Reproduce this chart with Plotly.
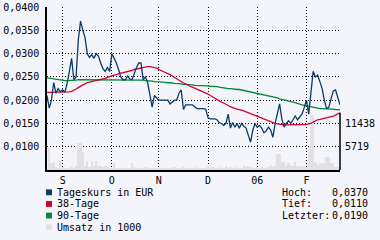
import plotly.graph_objects as go

# ---------------- data ----------------
price = [0.0210, 0.0183, 0.0200, 0.0238, 0.0215, 0.0225, 0.0218, 0.0222, 0.0217, 0.0236,
         0.0262, 0.0290, 0.0244, 0.0250, 0.0330, 0.0370, 0.0350, 0.0335, 0.0300, 0.0292,
         0.0298, 0.0290, 0.0300, 0.0295, 0.0280, 0.0268, 0.0262, 0.0270, 0.0262, 0.0300,
         0.0290, 0.0280, 0.0266, 0.0250, 0.0244, 0.0244, 0.0252, 0.0246, 0.0244, 0.0258,
         0.0270, 0.0280, 0.0280, 0.0244, 0.0250, 0.0238, 0.0210, 0.0185, 0.0210, 0.0206,
         0.0200, 0.0200, 0.0200, 0.0200, 0.0200, 0.0192, 0.0196, 0.0200, 0.0200, 0.0215,
         0.0222, 0.0180, 0.0190, 0.0190, 0.0190, 0.0190, 0.0186, 0.0182, 0.0182, 0.0182,
         0.0182, 0.0180, 0.0162, 0.0160, 0.0160, 0.0160, 0.0158, 0.0152, 0.0150, 0.0146,
         0.0150, 0.0170, 0.0140, 0.0152, 0.0142, 0.0150, 0.0140, 0.0150, 0.0144, 0.0140,
         0.0125, 0.0110, 0.0135, 0.0150, 0.0142, 0.0146, 0.0140, 0.0130, 0.0134, 0.0142,
         0.0136, 0.0120, 0.0150, 0.0175, 0.0192, 0.0160, 0.0142, 0.0150, 0.0156, 0.0150,
         0.0158, 0.0166, 0.0158, 0.0164, 0.0170, 0.0184, 0.0200, 0.0170, 0.0215, 0.0262,
         0.0250, 0.0254, 0.0240, 0.0225, 0.0200, 0.0182, 0.0185, 0.0205, 0.0220, 0.0222,
         0.0205, 0.0190]

ma38 = [0.0217, 0.0217, 0.0217, 0.0217, 0.0217, 0.0217, 0.0217, 0.0217, 0.0217, 0.0217,
        0.0218, 0.0219, 0.0221, 0.0224, 0.0227, 0.0231, 0.0233, 0.0235, 0.0238, 0.0239,
        0.0240, 0.0241, 0.0242, 0.0243, 0.0244, 0.0245, 0.0247, 0.0249, 0.0251, 0.0252,
        0.0254, 0.0255, 0.0257, 0.0258, 0.0259, 0.0260, 0.0261, 0.0263, 0.0264, 0.0266,
        0.0267, 0.0269, 0.0270, 0.0271, 0.0272, 0.0272, 0.0272, 0.0271, 0.0271, 0.0269,
        0.0266, 0.0264, 0.0262, 0.0260, 0.0258, 0.0255, 0.0252, 0.0249, 0.0246, 0.0242,
        0.0239, 0.0237, 0.0235, 0.0232, 0.0230, 0.0228, 0.0226, 0.0224, 0.0222, 0.0220,
        0.0218, 0.0216, 0.0213, 0.0210, 0.0207, 0.0204, 0.0201, 0.0198, 0.0196, 0.0194,
        0.0191, 0.0189, 0.0186, 0.0184, 0.0182, 0.0181, 0.0180, 0.0179, 0.0177, 0.0175,
        0.0173, 0.0171, 0.0169, 0.0167, 0.0165, 0.0163, 0.0161, 0.0159, 0.0157, 0.0155,
        0.0154, 0.0152, 0.0150, 0.0149, 0.0148, 0.0148, 0.0147, 0.0147, 0.0147, 0.0147,
        0.0147, 0.0147, 0.0148, 0.0148, 0.0148, 0.0148, 0.0148, 0.0149, 0.0150, 0.0153,
        0.0156, 0.0158, 0.0159, 0.0160, 0.0161, 0.0162, 0.0163, 0.0165, 0.0166, 0.0168,
        0.0171, 0.0173]

ma90 = [0.0248, 0.0248, 0.0247, 0.0246, 0.0245, 0.0244, 0.0243, 0.0243, 0.0242, 0.0242,
        0.0242, 0.0243, 0.0243, 0.0243, 0.0244, 0.0244, 0.0244, 0.0244, 0.0244, 0.0244,
        0.0244, 0.0244, 0.0244, 0.0244, 0.0244, 0.0244, 0.0244, 0.0244, 0.0244, 0.0244,
        0.0244, 0.0244, 0.0244, 0.0244, 0.0244, 0.0244, 0.0244, 0.0244, 0.0244, 0.0244,
        0.0244, 0.0244, 0.0243, 0.0243, 0.0242, 0.0242, 0.0241, 0.0241, 0.0240, 0.0240,
        0.0240, 0.0239, 0.0239, 0.0238, 0.0238, 0.0237, 0.0237, 0.0236, 0.0236, 0.0235,
        0.0235, 0.0234, 0.0234, 0.0233, 0.0233, 0.0233, 0.0232, 0.0232, 0.0232, 0.0231,
        0.0231, 0.0231, 0.0231, 0.0230, 0.0230, 0.0229, 0.0229, 0.0228, 0.0227, 0.0226,
        0.0226, 0.0225, 0.0225, 0.0224, 0.0224, 0.0223, 0.0223, 0.0222, 0.0221, 0.0220,
        0.0219, 0.0218, 0.0217, 0.0216, 0.0215, 0.0214, 0.0213, 0.0212, 0.0211, 0.0210,
        0.0208, 0.0207, 0.0206, 0.0205, 0.0203, 0.0202, 0.0200, 0.0199, 0.0198, 0.0197,
        0.0196, 0.0195, 0.0193, 0.0191, 0.0190, 0.0189, 0.0188, 0.0187, 0.0185, 0.0184,
        0.0183, 0.0183, 0.0182, 0.0182, 0.0182, 0.0181, 0.0181, 0.0181, 0.0181, 0.0180,
        0.0180, 0.0179]

volume = [400, 5500, 1800, 1900, 700, 600, 1900, 800, 500, 600,
          400, 700, 500, 900, 6700, 6700, 4300, 1000, 2100, 800,
          2100, 900, 2100, 900, 1000, 700, 900, 700, 600, 500,
          1600, 500, 400, 600, 400, 300, 500, 400, 1700, 800,
          500, 600, 400, 500, 700, 400, 300, 500, 600, 400,
          500, 300, 400, 600, 500, 300, 400, 700, 500, 400,
          600, 800, 500, 400, 300, 500, 700, 400, 500, 600,
          400, 500, 900, 600, 800, 500, 400, 700, 600, 500,
          900, 600, 700, 400, 500, 800, 600, 500, 900, 700,
          1100, 800, 600, 500, 700, 600, 900, 500, 600, 800,
          1200, 700, 900, 4000, 4000, 1900, 1900, 1000, 1600, 1100,
          1100, 1900, 900, 1100, 1100, 700, 700, 4300, 13500, 13500,
          1900, 1200, 1600, 1600, 1600, 3100, 3100, 1600, 1600, 700,
          700, 500]

month_pos = [7, 29, 50, 72, 94, 116]
month_labels = ["S", "O", "N", "D", "06", "F"]
price_ticks = [0.010, 0.015, 0.020, 0.025, 0.030, 0.035, 0.040]
vol_ticks = [5719, 11438]
vol_labels = ["5719", "11438"]

legend_items = ["Tageskurs in EUR", "38-Tage", "90-Tage", "Umsatz in 1000"]
stat_labels = ["Hoch:", "Tief:", "Letzter:"]
stat_values = ["0,0370", "0,0110", "0,0190"]

# ---------------- style ----------------
BG = "#f4f5fa"
C_PRICE = "#0b3a6b"
C_38 = "#d6002c"
C_90 = "#00893a"
C_VOL = "#e1e1e1"
FONT = "DejaVu Sans Mono"

W, H = 380, 240
L, R, T, B = 47, 40, 2, 70
PW, PH = W - L - R, H - T - B


def px(x):
    return (x - L) / PW


def py(y):
    return (H - B - y) / PH


idx = list(range(len(price)))

fig = go.Figure()
fig.add_trace(go.Bar(x=idx, y=volume, marker=dict(color=C_VOL, line=dict(width=0)),
                     yaxis="y", showlegend=False))
fig.add_trace(go.Scatter(x=idx, y=ma90, mode="lines", line=dict(color=C_90, width=1.3),
                         yaxis="y2", showlegend=False))
fig.add_trace(go.Scatter(x=idx, y=ma38, mode="lines", line=dict(color=C_38, width=1.3),
                         yaxis="y2", showlegend=False))
fig.add_trace(go.Scatter(x=idx, y=price, mode="lines", line=dict(color=C_PRICE, width=1.3),
                         yaxis="y2", showlegend=False))

vol_px = 5719 / 24.0
vol_top = vol_px * PH

fig.update_layout(
    width=W, height=H,
    margin=dict(l=L, r=R, t=T, b=B, pad=0),
    paper_bgcolor=BG, plot_bgcolor=BG,
    bargap=0,
    separators=",.",
    font=dict(family=FONT, size=10, color="#000"),
    xaxis=dict(range=[0, len(price) - 1], tickvals=month_pos, ticktext=month_labels,
               showgrid=True, gridcolor="#000", griddash="1px,2px", gridwidth=1,
               showline=True, linecolor="#000", linewidth=1.5, ticks="",
               zeroline=False, fixedrange=True),
    yaxis=dict(range=[0, vol_top], side="right", tickvals=vol_ticks, ticktext=vol_labels,
               showgrid=False, showline=False, zeroline=False, ticks="",
               ticklabelstandoff=4),
    yaxis2=dict(range=[0.005, 0.04003], overlaying="y", side="left",
                tickvals=price_ticks, tickformat=".4f", ticklabeloverflow="allow",
                showgrid=True, gridcolor="#000", griddash="1px,2px", gridwidth=1,
                showline=True, linecolor="#000", linewidth=1.5, ticks="",
                zeroline=False, ticklabelstandoff=4),
)

# right axis line for the volume scale
fig.add_shape(type="line", xref="paper", yref="y", x0=1, x1=1, y0=0, y1=14060,
              line=dict(color="#000", width=1.5))

legend_colors = [C_PRICE, C_38, C_90, C_VOL]
rows = [193, 205, 217, 229]
for txt, col, ry in zip(legend_items, legend_colors, rows):
    fig.add_shape(type="rect", xref="paper", yref="paper",
                  x0=px(46), x1=px(52), y0=py(ry + 3), y1=py(ry - 3),
                  line=dict(width=0), fillcolor=col)
    fig.add_annotation(text=txt, xref="paper", yref="paper", x=px(55), y=py(ry),
                       xanchor="left", yanchor="middle", showarrow=False)

for lab, val, ry in zip(stat_labels, stat_values, rows):
    fig.add_annotation(text=lab, xref="paper", yref="paper", x=px(280), y=py(ry),
                       xanchor="left", yanchor="middle", showarrow=False)
    fig.add_annotation(text=val, xref="paper", yref="paper", x=px(370), y=py(ry),
                       xanchor="right", yanchor="middle", showarrow=False)

fig.write_html("out.html", config={"displayModeBar": False})
